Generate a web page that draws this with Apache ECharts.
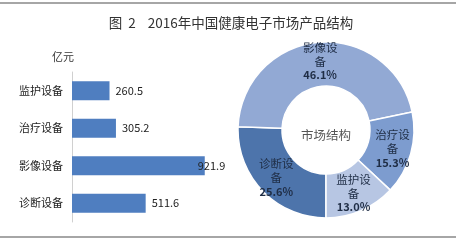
<!DOCTYPE html>
<html>
<head>
<meta charset="utf-8">
<script src="https://cdn.jsdelivr.net/npm/echarts@6/dist/echarts.min.js"></script>
<style>
  html, body { margin: 0; padding: 0; background: #fff; }
  #chart { width: 456px; height: 240px; }
</style>
</head>
<body>
<div id="chart"></div>
<script>
// 数据
const categories = ['监护设备', '治疗设备', '影像设备', '诊断设备']
const amounts = [260.5, 305.2, 921.9, 511.6]
// 环形图按顺时针从6点钟方向开始的顺序
const pieNames = ['诊断设备', '影像设备', '治疗设备', '监护设备']
const pieValues = [511.6, 921.9, 305.2, 260.5]
const pieColors = ['#4d74ab', '#92a9d4', '#7d9ccf', '#b7c6e3']

const font = '"Noto Sans CJK SC", "Noto Sans", sans-serif'

const chart = echarts.init(document.getElementById('chart'))

const option = {
  backgroundColor: '#fff',
  textStyle: { fontFamily: font },
  title: {
    text: '图  2    2016年中国健康电子市场产品结构',
    left: 226,
    textAlign: 'center',
    top: 11,
    textStyle: { fontSize: 13.5, fontWeight: 'normal', color: '#333', fontFamily: font }
  },
  graphic: [
    { type: 'line', shape: { x1: 0, y1: 3, x2: 456, y2: 3 }, style: { stroke: '#a6a6a6', lineWidth: 2 } },
    { type: 'line', shape: { x1: 0, y1: 237, x2: 456, y2: 237 }, style: { stroke: '#a6a6a6', lineWidth: 2 } },
    { type: 'text', left: 52, top: 51, style: { text: '亿元', fill: '#333', font: '11px ' + font } },
    {
      type: 'text', left: 301, top: 129,
      style: { text: '市场结构', fill: '#555', font: '12.5px ' + font }
    }
  ],
  grid: { left: 72, top: 72, width: 144, height: 150 },
  xAxis: { type: 'value', min: 0, max: 1000, show: false },
  yAxis: {
    type: 'category',
    data: categories,
    inverse: true,
    axisLine: { lineStyle: { color: '#d0d0d0' } },
    axisTick: { show: false },
    axisLabel: { fontSize: 11, color: '#222', margin: 9 }
  },
  series: [
    {
      type: 'bar',
      barWidth: 19,
      data: amounts.map((v, i) => ({
        value: v,
        label: i === 2 ? { offset: [-13, 0] } : {}
      })),
      itemStyle: { color: '#4f7ec0' },
      label: { show: true, position: 'right', distance: 6, fontSize: 11, color: '#222' },
      silent: true
    },
    {
      type: 'pie',
      center: [326, 130],
      radius: [44, 88],
      startAngle: -90,
      clockwise: true,
      silent: true,
      data: pieNames.map((n, i) => ({ name: n, value: pieValues[i], itemStyle: { color: pieColors[i] } })),
      itemStyle: { borderColor: '#fff', borderWidth: 1.5 },
      label: {
        show: true,
        position: 'inside',
        formatter: p => p.name.slice(0, 3) + '\n' + p.name.slice(3) + '\n{p|' + p.percent.toFixed(1) + '%}',
        fontSize: 11.5,
        lineHeight: 14,
        color: '#1f2d45',
        rich: { p: { fontSize: 11, fontWeight: 'bold', color: '#1f2d45' } }
      },
      labelLine: { show: false }
    }
  ]
}

chart.setOption(option)
</script>
</body>
</html>
